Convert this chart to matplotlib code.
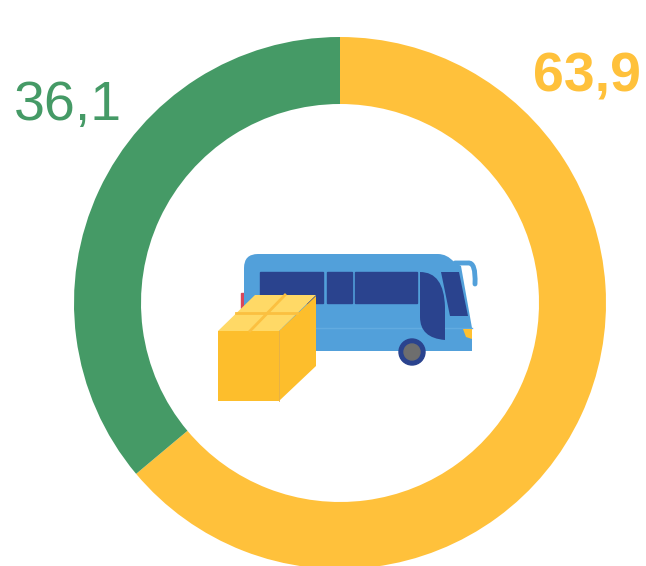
import matplotlib
matplotlib.use('Agg')
import matplotlib.pyplot as plt
from matplotlib.patches import Polygon, PathPatch, Circle, Rectangle
from matplotlib.path import Path

plt.rcParams['font.family'] = ['Liberation Sans', 'DejaVu Sans']

labels = ['63,9', '36,1']
values = [63.9, 36.1]
colors = ['#FFC13B', '#459A66']

BUS_BLUE = '#52A0DA'
BUS_DARK = '#2A438E'
BOX_FRONT = '#FDBE2C'
BOX_TOP = '#FFD966'

fig = plt.figure(figsize=(6.46, 5.66), dpi=100)
ax = fig.add_axes([0, 0, 1, 1])

# donut, y axis is flipped so the angles run the other way
ax.pie(values, colors=colors, startangle=-90, counterclock=True, radius=266,
       center=(340, 303), frame=True, wedgeprops=dict(width=67, linewidth=0))
ax.set_xlim(0, 646)
ax.set_ylim(566, 0)
ax.set_aspect('equal')
ax.axis('off')

ax.text(587, 78, labels[0], color=colors[0], fontsize=40, fontweight='bold', ha='center', va='center')
ax.text(68, 106, labels[1], color=colors[1], fontsize=40, ha='center', va='center')

M, L, C = Path.MOVETO, Path.LINETO, Path.CURVE3
E = Path.CLOSEPOLY

# bus
ax.add_patch(Rectangle((241, 293), 5, 15, color='#D9475A', zorder=3))
body = Path([(244, 268), (244, 254), (258, 254), (438, 254), (447, 254), (454, 262),
             (461, 266), (472, 328), (472, 351), (244, 351), (244, 268)],
            [M, C, C, L, C, C, L, L, L, L, E])
ax.add_patch(PathPatch(body, fc=BUS_BLUE, ec='none', zorder=3))
ax.plot([246, 472], [328, 328], color='#62ABE0', lw=1, zorder=4)
ax.add_patch(Rectangle((260, 272), 63, 31, color=BUS_DARK, zorder=4))
ax.add_patch(Rectangle((327, 272), 25, 31, color=BUS_DARK, zorder=4))
ax.add_patch(Rectangle((355, 272), 62, 31, color=BUS_DARK, zorder=4))
door = Path([(420, 272), (444, 272), (445, 307), (445, 340), (420, 338), (420, 317), (420, 272)],
            [M, C, C, L, C, C, E])
ax.add_patch(PathPatch(door, fc=BUS_DARK, ec='none', zorder=5))
ax.add_patch(Polygon([(441, 272), (459, 272), (468, 316), (450, 316)], color=BUS_DARK, lw=0, zorder=5))
ax.add_patch(Polygon([(463, 329), (472, 329), (472, 339), (466, 337)], color='#FFC030', lw=0, zorder=5))
ax.add_patch(Circle((412, 352), 13, color=BUS_DARK, zorder=6))
ax.add_patch(Circle((412, 352), 8, color='#6E6E6E', zorder=7))
mirror = Path([(455, 263), (468, 263), (476, 262), (475, 284)], [M, L, C, C])
ax.add_patch(PathPatch(mirror, fc='none', ec=BUS_BLUE, lw=3.5, capstyle='round', zorder=3))

# box
ax.add_patch(Rectangle((218, 331), 61, 70, color=BOX_FRONT, lw=0, zorder=8))
ax.add_patch(Polygon([(279, 331), (316, 296), (316, 366), (279, 401)], color=BOX_FRONT, lw=0, zorder=8))
ax.add_patch(Polygon([(218, 331), (255, 295), (316, 295), (279, 331)], color=BOX_TOP, lw=0, zorder=8))
ax.plot([236, 297], [313, 313], color='#FBC040', lw=2, zorder=9)
ax.plot([285, 250], [295, 331], color='#FBC040', lw=2, zorder=9)
ax.plot([279, 279], [331, 401], color='#E3B04A', lw=0.6, zorder=9)

fig.savefig('out.png', dpi=100)
